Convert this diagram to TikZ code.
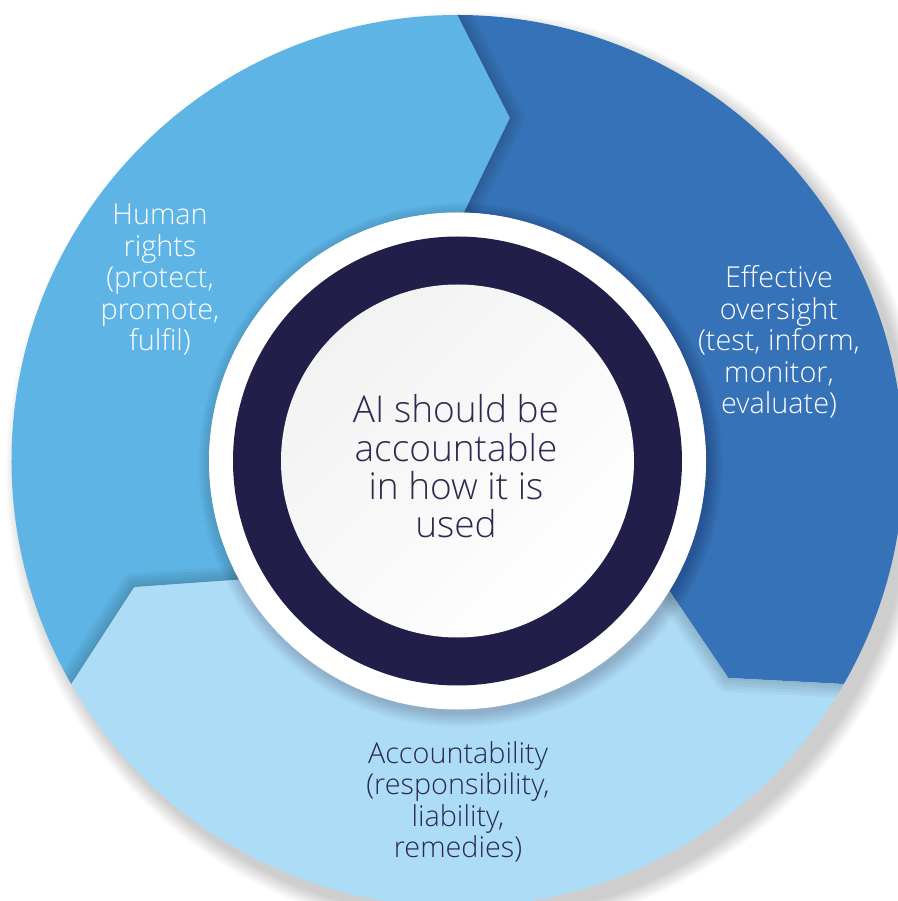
\documentclass[tikz,border=0pt]{standalone}
\usepackage{fontspec}
\IfFontExistsTF{Open Sans Light}{\setmainfont{Open Sans Light}}{\setmainfont{Open Sans}}
\usepackage{tikz}

\definecolor{rightsblue}{HTML}{5EB5E5}
\definecolor{oversightblue}{HTML}{3672B7}
\definecolor{accountblue}{HTML}{ADDCF7}
\definecolor{ringnavy}{HTML}{211F4A}
\definecolor{textnavy}{HTML}{2B2A50}

\tikzset{
  segtext/.style={align=center, font=\fontsize{28.8pt}{31.5pt}\selectfont},
  coretext/.style={align=center, text=textnavy, font=\fontsize{37pt}{38.3pt}\selectfont},
}

% radii of the disc, the chevron tips and the rings
\newcommand{\Rout}{446pt}
\newcommand{\Rtip}{347pt}
\newcommand{\Rring}{248.5pt}
\newcommand{\Rdark}{224.5pt}
\newcommand{\Rcore}{176.5pt}

% one 120 degree segment, starting at angle #1
\newcommand{\segpath}[1]{(#1:\Rout) arc[start angle=#1, end angle=#1+120, radius=\Rout] -- (#1+111.3:\Rtip) -- (#1+118.5:\Rring) arc[start angle=#1+118.5, end angle=#1-1.5, radius=\Rring] -- (#1-8.7:\Rtip) -- cycle}

\begin{document}
\begin{tikzpicture}
    \useasboundingbox (-457.5pt,-440pt) rectangle (439.5pt,461pt);

    % Drop shadow of the outer disc
    \foreach \k in {0,...,16}
        \fill[black, opacity=0.011] (10pt,-12pt) circle[radius=\Rout+\k*1pt];

    % The three segments
    \foreach \a/\col in {90/rightsblue, -30/oversightblue, 210/accountblue}
        \fill[\col] \segpath{\a};

    % Shadow of each chevron tip on its neighbour
    \foreach \a in {90,-30,210} {
        \begin{scope}
            \clip \segpath{\a-120};
            \foreach \w in {4pt,10pt,16pt,22pt,28pt}
                \draw[black, opacity=0.035, line width=\w, line join=round] (\a:\Rout) -- (\a-8.7:\Rtip) -- (\a-1.5:\Rring);
        \end{scope}
    }

    % Shadow of the white ring
    \foreach \k in {0,...,14}
        \fill[black, opacity=0.01] (3pt,-4pt) circle[radius=\Rring+\k*1pt];

    % Rings and centre disc
    \fill[white] (0,0) circle[radius=\Rring];
    \fill[ringnavy] (0,0) circle[radius=\Rdark];
    \shade[top color=white!95!black, bottom color=white, shading angle=45] (0,0) circle[radius=\Rcore];

    % Labels
    \node[segtext, text=white] (rights) at (-297.5pt,181pt) {Human\\rights\\(protect,\\promote,\\fulfil)};
    \node[segtext, text=white] (oversight) at (321.5pt,119pt) {Effective\\oversight\\(test, inform,\\monitor,\\evaluate)};
    \node[segtext, text=textnavy] (account) at (0.5pt,-341pt) {Accountability\\(responsibility,\\liability,\\remedies)};
    \node[coretext] (core) at (-1.5pt,-5.5pt) {AI should be\\accountable\\in how it is\\used};

\end{tikzpicture}
\end{document}
